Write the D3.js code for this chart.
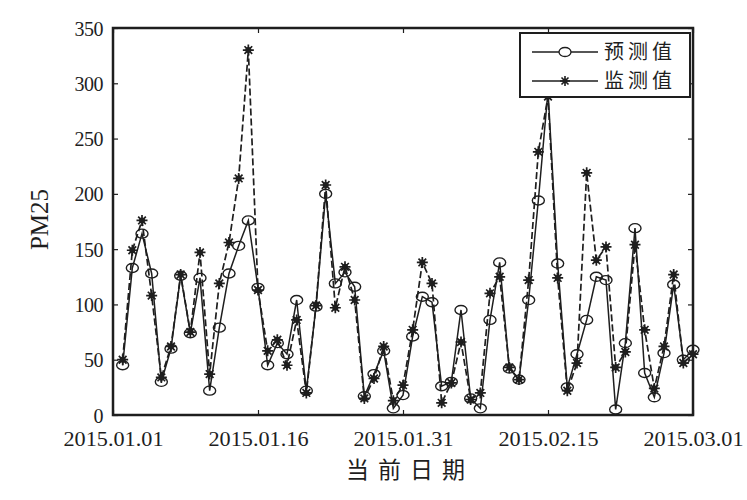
<!DOCTYPE html>
<html>
<head>
<meta charset="utf-8">
<script src="https://cdn.jsdelivr.net/npm/d3@7"></script>
<style>
  body { margin: 0; background: #fff; }
</style>
</head>
<body>
<div id="chart"></div>
<script>
const days = d3.range(1, 61);
const monitored = [50, 149, 176, 108, 34, 62, 127, 75, 147, 37, 119, 156, 214, 330, 113, 58, 68, 45, 86, 20,
  99, 208, 97, 134, 104, 15, 33, 62, 13, 27, 77, 138, 119, 11, 29, 66, 14, 20, 110, 125,
  43, 32, 122, 238, 288, 124, 22, 47, 219, 140, 152, 43, 57, 154, 77, 24, 62, 127, 47, 55];
const predicted = [45, 133, 164, 128, 30, 60, 126, 74, 124, 22, 79, 128, 153, 176, 115, 45, 65, 55, 104, 22,
  98, 200, 119, 129, 116, 17, 37, 58, 6, 18, 71, 107, 102, 26, 30, 95, 15, 6, 86, 138,
  42, 32, 104, 194, 293, 137, 25, 55, 86, 125, 122, 5, 65, 169, 38, 16, 56, 118, 50, 59];
const xTicks = [0, 15, 30, 45, 60];
const xTickLabels = ['2015.01.01', '2015.01.16', '2015.01.31', '2015.02.15', '2015.03.01'];
const yTicks = [0, 50, 100, 150, 200, 250, 300, 350];
const legendNames = ['预测值', '监测值'];

const W = 747, H = 500;
const margin = { top: 28, right: 54, bottom: 85, left: 113 };
const innerW = W - margin.left - margin.right;
const innerH = H - margin.top - margin.bottom;
const ink = '#1e1e1e';
const numFont = '"Liberation Serif", "DejaVu Serif", serif';

const svg = d3.select('#chart').append('svg')
  .attr('width', W).attr('height', H);
const g = svg.append('g').attr('transform', `translate(${margin.left},${margin.top})`);

const x = d3.scaleLinear().domain([0, 60]).range([0, innerW]);
const y = d3.scaleLinear().domain([0, 350]).range([innerH, 0]);

// axes, ticks pointing inward on all four sides
const tickLen = 5;
const xAxis = g.append('g').attr('transform', `translate(0,${innerH})`)
  .call(d3.axisBottom(x).tickValues(xTicks).tickSize(-tickLen).tickPadding(17)
    .tickFormat((d, i) => xTickLabels[i]));
const xTop = g.append('g')
  .call(d3.axisTop(x).tickValues(xTicks).tickSize(-tickLen).tickFormat(''));
const yAxis = g.append('g')
  .call(d3.axisLeft(y).tickValues(yTicks).tickSize(-tickLen).tickPadding(10));
const yRight = g.append('g').attr('transform', `translate(${innerW},0)`)
  .call(d3.axisRight(y).tickValues(yTicks).tickSize(-tickLen).tickFormat(''));
[xAxis, xTop, yAxis, yRight].forEach((ax) => {
  ax.select('.domain').remove();
  ax.selectAll('line').attr('stroke', ink).attr('stroke-width', 1.2);
  ax.selectAll('text').attr('fill', ink).attr('font-family', numFont)
    .attr('font-size', 20);
});
yAxis.selectAll('text').attr('dy', '0.35em').attr('letter-spacing', -0.5);
xAxis.selectAll('text').attr('textLength', 100).attr('lengthAdjust', 'spacingAndGlyphs');

g.append('rect').attr('width', innerW).attr('height', innerH)
  .attr('fill', 'none').attr('stroke', ink).attr('stroke-width', 2.5);

// axis titles
svg.append('text').attr('x', 410).attr('y', 478)
  .attr('text-anchor', 'middle').attr('fill', ink)
  .attr('font-family', '"Noto Sans CJK SC", sans-serif').attr('font-size', 23)
  .attr('letter-spacing', 9).text('当前日期');
svg.append('text').attr('transform', `translate(48,${margin.top + innerH / 2 - 2}) rotate(-90)`)
  .attr('text-anchor', 'middle').attr('fill', ink)
  .attr('font-family', numFont).attr('font-size', 25).text('PM25');

// series: monitored dashed with stars, predicted solid with circles
const line = d3.line().x((d, i) => x(days[i])).y((d) => y(d));
g.append('path').datum(monitored).attr('d', line)
  .attr('fill', 'none').attr('stroke', ink).attr('stroke-width', 1.7)
  .attr('stroke-dasharray', '7,3');
g.append('path').datum(predicted).attr('d', line)
  .attr('fill', 'none').attr('stroke', ink).attr('stroke-width', 1.5);

function starPath(cx, cy, r) {
  const a = r * 0.7;
  return `M${cx - r},${cy}L${cx + r},${cy}M${cx},${cy - r}L${cx},${cy + r}` +
    `M${cx - a},${cy - a}L${cx + a},${cy + a}M${cx - a},${cy + a}L${cx + a},${cy - a}`;
}

g.selectAll('.circ').data(predicted).join('ellipse')
  .attr('cx', (d, i) => x(days[i])).attr('cy', (d) => y(d))
  .attr('rx', 6).attr('ry', 4.5)
  .attr('fill', 'none').attr('stroke', ink).attr('stroke-width', 1.4);
const stars = g.selectAll('.star').data(monitored).join('g');
stars.append('path').attr('d', (d, i) => starPath(x(days[i]), y(d), 5.5))
  .attr('stroke', ink).attr('stroke-width', 1.7);
stars.append('circle').attr('cx', (d, i) => x(days[i])).attr('cy', (d) => y(d))
  .attr('r', 3).attr('fill', ink);

// legend
const lg = svg.append('g').attr('transform', 'translate(520,33)');
lg.append('rect').attr('width', 170).attr('height', 64)
  .attr('fill', '#fff').attr('stroke', ink).attr('stroke-width', 2);
legendNames.forEach((name, i) => {
  const ly = 19 + i * 29;
  lg.append('line').attr('x1', 12).attr('x2', 78).attr('y1', ly).attr('y2', ly)
    .attr('stroke', ink).attr('stroke-width', 1.4);
  if (i === 0) {
    lg.append('ellipse').attr('cx', 45).attr('cy', ly).attr('rx', 6).attr('ry', 4.5)
      .attr('fill', '#fff').attr('stroke', ink).attr('stroke-width', 1.3);
  } else {
    lg.append('path').attr('d', starPath(45, ly, 5)).attr('stroke', ink).attr('stroke-width', 1.6);
    lg.append('circle').attr('cx', 45).attr('cy', ly).attr('r', 2.4).attr('fill', ink);
  }
  lg.append('text').attr('x', 84).attr('y', ly).attr('dy', '0.35em')
    .attr('fill', ink).attr('font-family', '"Noto Sans CJK SC", sans-serif')
    .attr('font-size', 20).attr('letter-spacing', 4).text(name);
});
</script>
</body>
</html>
